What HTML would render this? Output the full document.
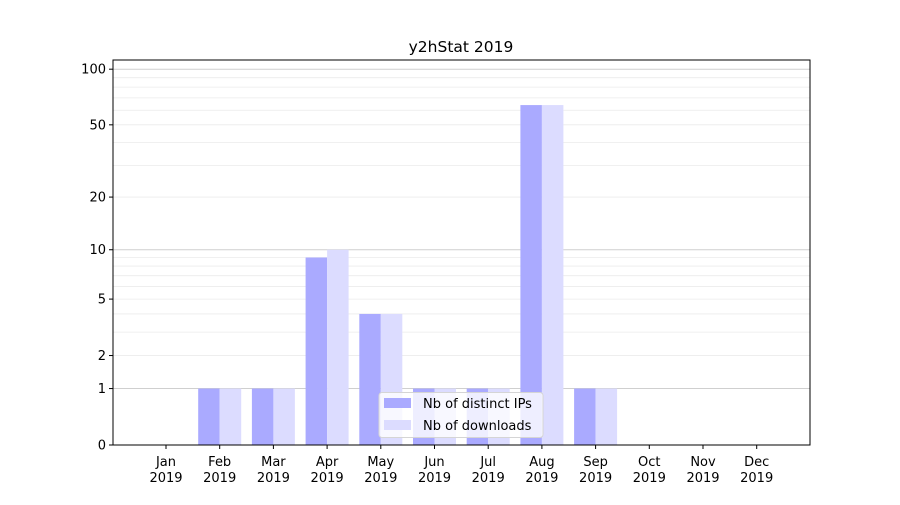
<!DOCTYPE html>
<html><head><meta charset="utf-8"><style>
body{margin:0;background:#fff;}
svg text{font-family:"DejaVu Sans","Liberation Sans",sans-serif;font-size:13px;fill:#000;}
</style></head><body>
<svg id="s" width="900" height="500" xmlns="http://www.w3.org/2000/svg"></svg>
<script>
const s=document.getElementById('s');
const k=187.5, y0=445, L=113, R=810, T=60;
const Y=v=>y0-k*Math.log10(1+v);
let h='<rect width="900" height="500" fill="#fff"/>';
// minor grid
[3,4,6,7,8,9,30,40,60,70,80,90].forEach(v=>{h+=`<line x1="${L}" x2="${R}" y1="${Y(v)}" y2="${Y(v)}" stroke="#ebebeb" stroke-width="0.8"/>`;});
[2,5,20,50].forEach(v=>{h+=`<line x1="${L}" x2="${R}" y1="${Y(v)}" y2="${Y(v)}" stroke="#ebebeb" stroke-width="0.8"/>`;});
[1,10,100].forEach(v=>{h+=`<line x1="${L}" x2="${R}" y1="${Y(v)}" y2="${Y(v)}" stroke="#cfcfcf" stroke-width="1"/>`;});
const months=['Jan','Feb','Mar','Apr','May','Jun','Jul','Aug','Sep','Oct','Nov','Dec'];
const a=[0,1,1,9,4,1,1,64,1,0,0,0], b=[0,1,1,10,4,1,1,64,1,0,0,0];
months.forEach((m,i)=>{
 const c=166+i*53.7;
 if(a[i]>0)h+=`<rect x="${c-21.5}" y="${Y(a[i])}" width="21.5" height="${y0-Y(a[i])}" fill="#aaaaff"/>`;
 if(b[i]>0)h+=`<rect x="${c}" y="${Y(b[i])}" width="21.5" height="${y0-Y(b[i])}" fill="#dcdcff"/>`;
 h+=`<line x1="${c}" x2="${c}" y1="445" y2="449" stroke="#000"/>`;
 h+=`<text x="${c}" y="466" text-anchor="middle">${m}</text><text x="${c}" y="482" text-anchor="middle">2019</text>`;
});
[0,1,2,5,10,20,50,100].forEach(v=>{const y=Y(v);h+=`<line x1="${L-4}" x2="${L}" y1="${y}" y2="${y}" stroke="#000"/><text x="${L-7}" y="${y+4.5}" text-anchor="end">${v}</text>`;});
h+=`<rect x="${L}" y="${T}" width="${R-L}" height="${y0-T}" fill="none" stroke="#000" stroke-width="1"/>`;
h+=`<text x="461" y="52" text-anchor="middle" style="font-size:15.5px">y2hStat 2019</text>`;
h+=`<rect x="379" y="392.5" width="164" height="45" rx="3" fill="#fff" fill-opacity="0.8" stroke="#d5d5d5"/>`;
h+=`<rect x="384" y="398" width="27" height="10" fill="#aaaaff"/><text x="423" y="408">Nb of distinct IPs</text>`;
h+=`<rect x="384" y="420" width="27" height="10" fill="#dcdcff"/><text x="423" y="430">Nb of downloads</text>`;
s.innerHTML=h;
</script>
</body></html>
